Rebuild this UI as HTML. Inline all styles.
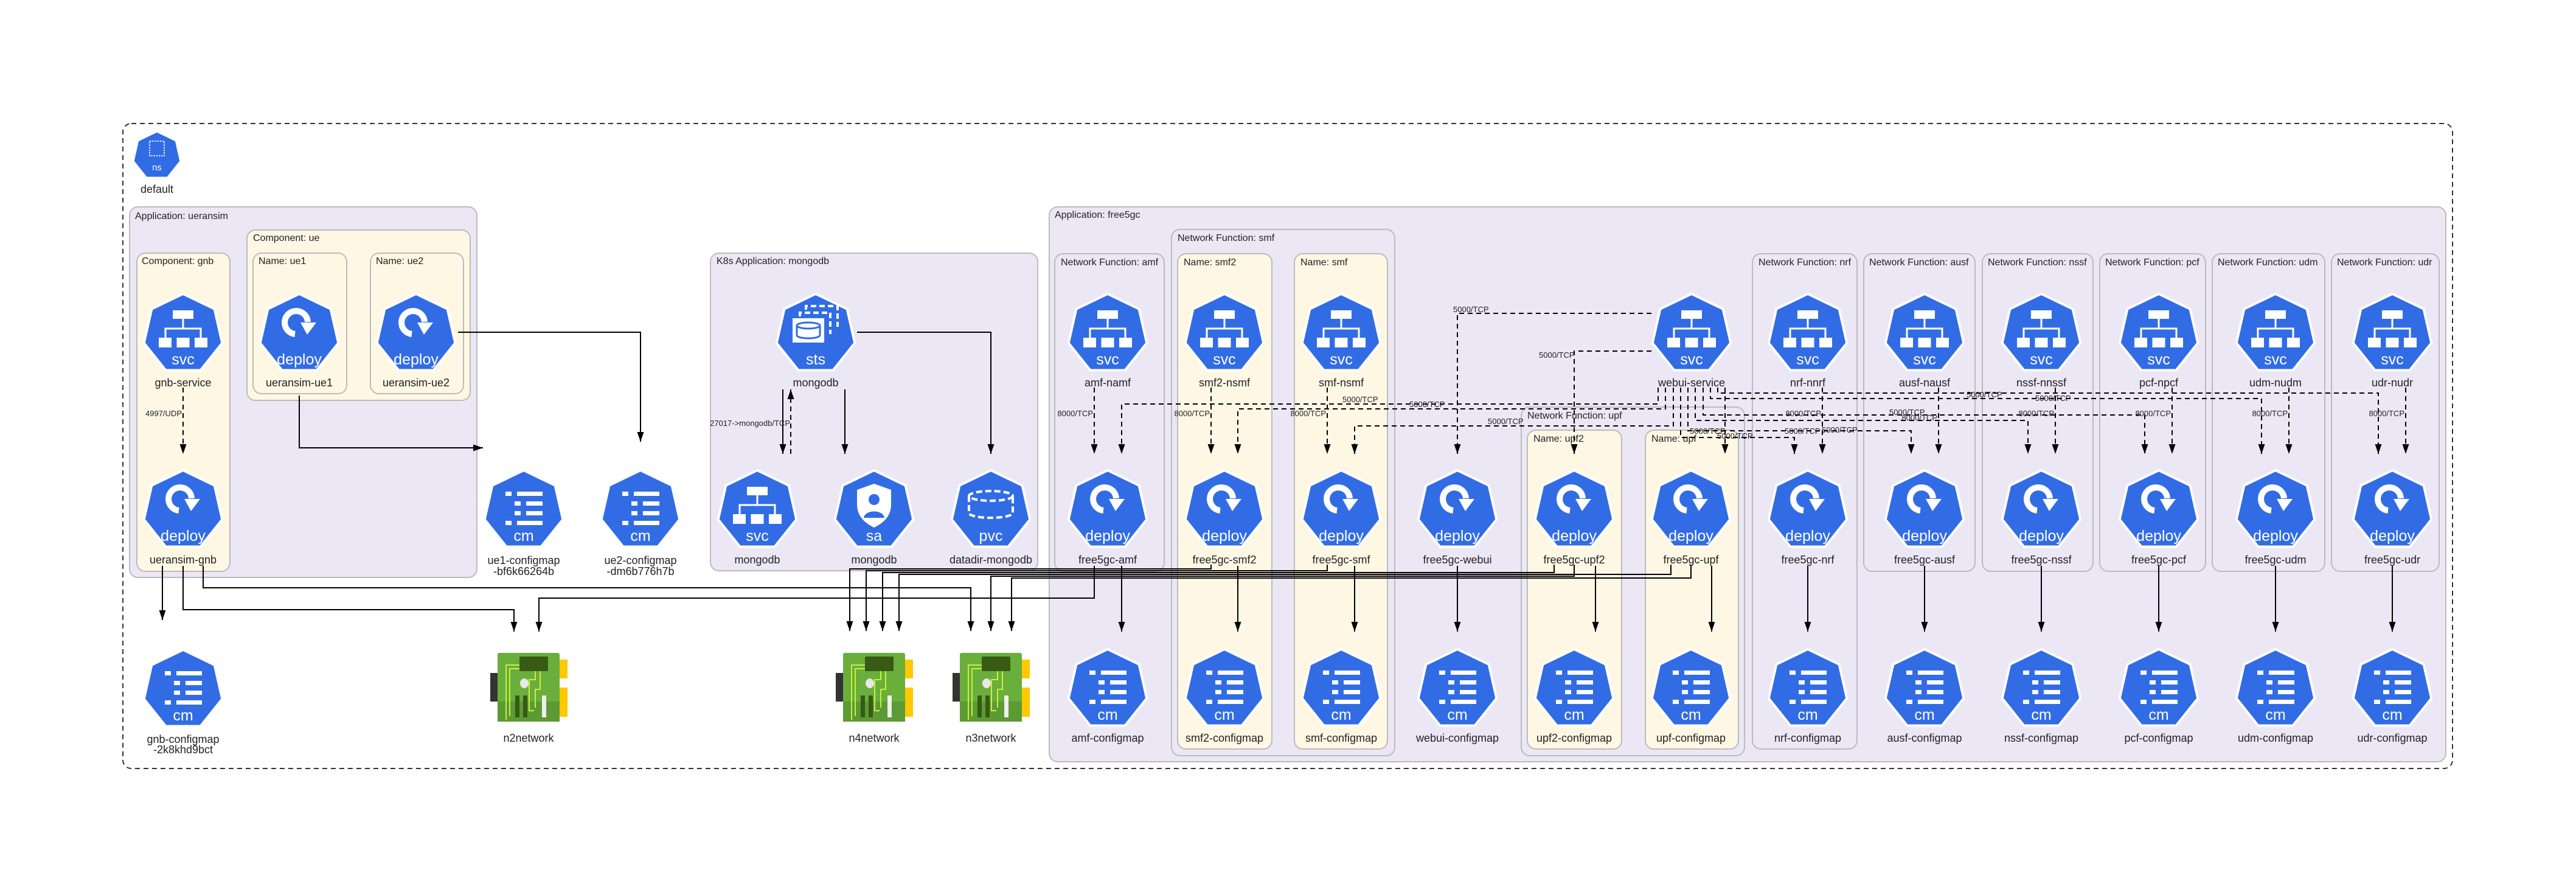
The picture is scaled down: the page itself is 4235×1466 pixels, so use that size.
<!DOCTYPE html>
<html><head><meta charset="utf-8"><style>
html,body{margin:0;padding:0;background:#fff;}
svg{display:block;font-family:"Liberation Sans",Arial,sans-serif;}
.lb{font-size:16px;fill:#222;}
.nl{font-size:18px;fill:#222;text-anchor:middle;}
.it{font-size:25px;fill:#fff;text-anchor:middle;}
.el{font-size:13px;fill:#222;}
.s{fill:none;stroke:#000;stroke-width:2;}
.d{fill:none;stroke:#000;stroke-width:2;stroke-dasharray:8,6;}
</style></head><body>
<svg width="4235" height="1466" viewBox="0 0 4235 1466" xmlns="http://www.w3.org/2000/svg">
<defs>
<marker id="a" viewBox="0 0 10 10" refX="10" refY="5" markerUnits="userSpaceOnUse" markerWidth="16" markerHeight="11" orient="auto" preserveAspectRatio="none"><path d="M0,0L10,5L0,10z" fill="#000"/></marker>
<path id="h" d="M0,-66L51.6,-41.2L64.3,14.7L28.6,59.5L-28.6,59.5L-64.3,14.7L-51.6,-41.2Z" fill="#326ce5" stroke="#fff" stroke-width="4" stroke-linejoin="round"/>
<g id="gs" fill="#fff"><rect x="-17" y="-39" width="34" height="14"/><rect x="-1.5" y="-25" width="3" height="17"/><path d="M-29,8V-9H29V8" fill="none" stroke="#fff" stroke-width="3"/><rect x="-40" y="6" width="21" height="16"/><rect x="-10.5" y="6" width="21" height="16"/><rect x="19" y="6" width="21" height="16"/></g>
<g id="gd"><path d="M-7,0A19,19 0 1 1 14,-20" fill="none" stroke="#fff" stroke-width="10"/><path d="M2,-19L28,-19L13,1Z" fill="#fff"/></g>
<g id="gc" fill="#fff"><rect x="-30" y="-31" width="10" height="7"/><rect x="-11" y="-31" width="42" height="7"/><rect x="-15" y="-15" width="10" height="7"/><rect x="4" y="-15" width="27" height="7"/><rect x="-15" y="1" width="10" height="7"/><rect x="4" y="1" width="27" height="7"/><rect x="-30" y="17" width="10" height="7"/><rect x="-11" y="17" width="42" height="7"/></g>
<g id="net"><rect x="-12" y="33" width="12" height="47" fill="#333"/><rect x="102" y="11" width="13" height="31" fill="#ffc800"/><rect x="102" y="57" width="13" height="48" fill="#ffc800"/><rect x="0" y="0" width="102" height="113" rx="3" fill="#6aae3c"/><rect x="0" y="80" width="102" height="33" fill="#5c9a34"/><rect x="36" y="6" width="47" height="24" rx="2" fill="#375a14"/><path d="M14,110V20H36M20,104V26H36M62,30V44H52V95H60M70,30V60H62V90" fill="none" stroke="#c8f03c" stroke-width="2"/><ellipse cx="44" cy="50" rx="7" ry="8" fill="#e8e8e8"/><rect x="29" y="70" width="7" height="36" fill="#375a14"/><rect x="42" y="70" width="7" height="36" fill="#375a14"/><rect x="73" y="70" width="7" height="36" fill="#eee"/></g>
</defs>

<rect x="202" y="203" width="3830" height="1060" rx="14" fill="none" stroke="#333" stroke-width="2" stroke-dasharray="8,6"/>
<g transform="translate(258,256) scale(0.6)"><use href="#h"/><rect x="-20" y="-40" width="40" height="40" fill="none" stroke="#fff" stroke-width="3" stroke-dasharray="4,3"/><text y="40" class="it" style="font-size:24px">ns</text></g>
<text x="258" y="317" class="nl">default</text>

<rect x="213" y="340" width="571" height="609" rx="14" fill="#ebe7f5" stroke="#bbb" stroke-width="2"/>
<text x="222" y="360" class="lb">Application: ueransim</text>
<rect x="225" y="416" width="153" height="523" rx="14" fill="#fdf7e4" stroke="#bbb" stroke-width="2"/>
<text x="233" y="434" class="lb">Component: gnb</text>
<rect x="406" y="378" width="367" height="280" rx="14" fill="#fdf7e4" stroke="#bbb" stroke-width="2"/>
<text x="416" y="396" class="lb">Component: ue</text>
<rect x="416" y="416" width="154" height="231" rx="14" fill="#fdf7e4" stroke="#bbb" stroke-width="2"/>
<text x="425" y="434" class="lb">Name: ue1</text>
<rect x="609" y="416" width="153" height="231" rx="14" fill="#fdf7e4" stroke="#bbb" stroke-width="2"/>
<text x="618" y="434" class="lb">Name: ue2</text>

<rect x="1168" y="416" width="538" height="522" rx="14" fill="#ebe7f5" stroke="#bbb" stroke-width="2"/>
<text x="1178" y="434" class="lb">K8s Application: mongodb</text>

<rect x="1725" y="340" width="2296" height="912" rx="14" fill="#ebe7f5" stroke="#bbb" stroke-width="2"/>
<text x="1734" y="358" class="lb">Application: free5gc</text>
<rect x="1734" y="417" width="180" height="522" rx="14" fill="#ebe7f5" stroke="#bbb" stroke-width="2"/>
<text x="1744" y="436" class="lb">Network Function: amf</text>
<rect x="1926" y="377" width="367" height="865" rx="14" fill="#ebe7f5" stroke="#bbb" stroke-width="2"/>
<text x="1936" y="396" class="lb">Network Function: smf</text>
<rect x="1936" y="417" width="155" height="814" rx="14" fill="#fdf7e4" stroke="#bbb" stroke-width="2"/>
<text x="1946" y="436" class="lb">Name: smf2</text>
<rect x="2128" y="417" width="153" height="814" rx="14" fill="#fdf7e4" stroke="#bbb" stroke-width="2"/>
<text x="2138" y="436" class="lb">Name: smf</text>
<rect x="2501" y="669" width="367" height="573" rx="14" fill="#ebe7f5" stroke="#bbb" stroke-width="2"/>
<text x="2511" y="688" class="lb">Network Function: upf</text>
<rect x="2511" y="707" width="155" height="524" rx="14" fill="#fdf7e4" stroke="#bbb" stroke-width="2"/>
<text x="2521" y="726" class="lb">Name: upf2</text>
<rect x="2705" y="707" width="153" height="524" rx="14" fill="#fdf7e4" stroke="#bbb" stroke-width="2"/>
<text x="2715" y="726" class="lb">Name: upf</text>
<rect x="2881" y="417" width="172" height="814" rx="14" fill="#ebe7f5" stroke="#bbb" stroke-width="2"/>
<text x="2891" y="436" class="lb">Network Function: nrf</text>
<rect x="3064" y="417" width="183" height="522" rx="14" fill="#ebe7f5" stroke="#bbb" stroke-width="2"/>
<text x="3073" y="436" class="lb">Network Function: ausf</text>
<rect x="3259" y="417" width="182" height="522" rx="14" fill="#ebe7f5" stroke="#bbb" stroke-width="2"/>
<text x="3268" y="436" class="lb">Network Function: nssf</text>
<rect x="3452" y="417" width="174" height="522" rx="14" fill="#ebe7f5" stroke="#bbb" stroke-width="2"/>
<text x="3461" y="436" class="lb">Network Function: pcf</text>
<rect x="3637" y="417" width="185" height="522" rx="14" fill="#ebe7f5" stroke="#bbb" stroke-width="2"/>
<text x="3646" y="436" class="lb">Network Function: udm</text>
<rect x="3833" y="417" width="177" height="522" rx="14" fill="#ebe7f5" stroke="#bbb" stroke-width="2"/>
<text x="3842" y="436" class="lb">Network Function: udr</text>

<g class="s" marker-end="url(#a)">
<path d="M492,650V736H794"/>
<path d="M753,546H1053V726"/>
<path d="M267,930V1019"/>
<path d="M301,930V1002H845V1038"/>
<path d="M334,930V966H1596V1037"/>
<path d="M1799,930V983H886V1038"/>
<path d="M1287,640V746"/>
<path d="M1389,640V746"/>
<path d="M1409,546H1629V746"/>
<path d="M1991,928V935H1397V1037"/>
<path d="M2182,928V938H1424V1037"/>
<path d="M2555,928V941H1451V1037"/>
<path d="M2747,928V944H1478V1037"/>
<path d="M2588,928V947H1629V1037"/>
<path d="M2780,928V950H1663V1037"/>
<path d="M1844,930V1038"/><path d="M2035,930V1038"/><path d="M2227,930V1038"/><path d="M2396,930V1038"/><path d="M2623,930V1038"/><path d="M2814,930V1038"/>
<path d="M2972,930V1038"/><path d="M3164,930V1038"/><path d="M3356,930V1038"/><path d="M3549,930V1038"/><path d="M3741,930V1038"/><path d="M3933,930V1038"/>
</g>
<g class="d" marker-end="url(#a)">
<path d="M301,637V746"/>
<path d="M1300,746V640"/>
<path d="M1799,637V746"/><path d="M1991,637V746"/><path d="M2182,637V746"/>
<path d="M2996,637V746"/><path d="M3187,637V746"/><path d="M3379,637V746"/><path d="M3571,637V746"/><path d="M3763,637V746"/><path d="M3955,637V746"/>
<path d="M2715,515H2396V746"/>
<path d="M2715,577H2588V746"/>
<path d="M2726,637V664H1844V746"/>
<path d="M2738,637V672H2035V746"/>
<path d="M2751,637V700H2227V746"/>
<path d="M2763,637V719H2950V746"/>
<path d="M2775,637V708H3142V746"/>
<path d="M2787,637V691H3334V746"/>
<path d="M2800,637V682H3526V746"/>
<path d="M2812,637V655H3718V746"/>
<path d="M2824,637V646H3910V746"/>
<path d="M2836,637V746"/>
</g>
<g class="el">
<text x="299" y="684" text-anchor="end">4997/UDP</text>
<text x="1299" y="700" text-anchor="end">27017-&gt;mongodb/TCP</text>
<text x="1797" y="684" text-anchor="end">8000/TCP</text>
<text x="1989" y="684" text-anchor="end">8000/TCP</text>
<text x="2180" y="684" text-anchor="end">8000/TCP</text>
<text x="2994" y="684" text-anchor="end">8000/TCP</text>
<text x="3185" y="691" text-anchor="end">8000/TCP</text>
<text x="3377" y="684" text-anchor="end">8000/TCP</text>
<text x="3569" y="684" text-anchor="end">8000/TCP</text>
<text x="3761" y="684" text-anchor="end">8000/TCP</text>
<text x="3953" y="684" text-anchor="end">8000/TCP</text>
<text x="2389" y="513">5000/TCP</text>
<text x="2530" y="588">5000/TCP</text>
<text x="2317" y="669">5000/TCP</text>
<text x="2207" y="661">5000/TCP</text>
<text x="2446" y="697">5000/TCP</text>
<text x="2778" y="713">5000/TCP</text>
<text x="2934" y="713">5000/TCP</text>
<text x="2995" y="711">5000/TCP</text>
<text x="3106" y="682">5000/TCP</text>
<text x="3233" y="653">5000/TCP</text>
<text x="3346" y="659">5000/TCP</text>
<text x="2823" y="721">5000/TCP</text>
</g>

<g transform="translate(301,549)"><use href="#h"/><use href="#gs"/><text y="50" class="it">svc</text></g>
<g transform="translate(1821,549)"><use href="#h"/><use href="#gs"/><text y="50" class="it">svc</text></g>
<g transform="translate(2013,549)"><use href="#h"/><use href="#gs"/><text y="50" class="it">svc</text></g>
<g transform="translate(2205,549)"><use href="#h"/><use href="#gs"/><text y="50" class="it">svc</text></g>
<g transform="translate(2781,549)"><use href="#h"/><use href="#gs"/><text y="50" class="it">svc</text></g>
<g transform="translate(2972,549)"><use href="#h"/><use href="#gs"/><text y="50" class="it">svc</text></g>
<g transform="translate(3164,549)"><use href="#h"/><use href="#gs"/><text y="50" class="it">svc</text></g>
<g transform="translate(3356,549)"><use href="#h"/><use href="#gs"/><text y="50" class="it">svc</text></g>
<g transform="translate(3549,549)"><use href="#h"/><use href="#gs"/><text y="50" class="it">svc</text></g>
<g transform="translate(3741,549)"><use href="#h"/><use href="#gs"/><text y="50" class="it">svc</text></g>
<g transform="translate(3933,549)"><use href="#h"/><use href="#gs"/><text y="50" class="it">svc</text></g>
<g transform="translate(492,549)"><use href="#h"/><use href="#gd"/><text y="50" class="it">deploy</text></g>
<g transform="translate(684,549)"><use href="#h"/><use href="#gd"/><text y="50" class="it">deploy</text></g>
<g transform="translate(1341,549)"><use href="#h"/>
<g fill="none" stroke="#fff" stroke-width="4" stroke-dasharray="9,5"><path d="M-16,-40V-46H36V-12"/><path d="M-26,-29V-35H24V0"/></g>
<rect x="-38" y="-26" width="52" height="40" fill="#fff"/><ellipse cx="-12" cy="-14" rx="19" ry="5" fill="none" stroke="#326ce5" stroke-width="3"/><path d="M-31,-14V2A19,5 0 0 0 7,2V-14" fill="none" stroke="#326ce5" stroke-width="3"/>
<text y="50" class="it">sts</text></g>
<g class="nl">
<text x="301" y="635">gnb-service</text><text x="492" y="635">ueransim-ue1</text><text x="684" y="635">ueransim-ue2</text><text x="1341" y="635">mongodb</text>
<text x="1821" y="635">amf-namf</text><text x="2013" y="635">smf2-nsmf</text><text x="2205" y="635">smf-nsmf</text><text x="2781" y="635">webui-service</text>
<text x="2972" y="635">nrf-nnrf</text><text x="3164" y="635">ausf-nausf</text><text x="3356" y="635">nssf-nnssf</text><text x="3549" y="635">pcf-npcf</text><text x="3741" y="635">udm-nudm</text><text x="3933" y="635">udr-nudr</text>
</g>

<g transform="translate(301,839)"><use href="#h"/><use href="#gd"/><text y="50" class="it">deploy</text></g>
<g transform="translate(861,839)"><use href="#h"/><use href="#gc"/><text y="50" class="it">cm</text></g>
<g transform="translate(1053,839)"><use href="#h"/><use href="#gc"/><text y="50" class="it">cm</text></g>
<g transform="translate(1245,839)"><use href="#h"/><use href="#gs"/><text y="50" class="it">svc</text></g>
<g transform="translate(1437,839)"><use href="#h"/><path d="M0,-44L28,-34V-10C28,12 12,22 0,28C-12,22 -28,12 -28,-10V-34Z" fill="#fff"/><circle cx="0" cy="-18" r="9" fill="#326ce5"/><path d="M-17,12C-15,-2 15,-2 17,12Z" fill="#326ce5"/><text y="50" class="it">sa</text></g>
<g transform="translate(1629,839)"><use href="#h"/><g fill="none" stroke="#fff" stroke-width="4" stroke-dasharray="10,5"><ellipse cx="0" cy="-24" rx="36" ry="8"/><path d="M-36,-24V4A36,8 0 0 0 36,4V-24"/></g><text y="50" class="it">pvc</text></g>
<g transform="translate(1821,839)"><use href="#h"/><use href="#gd"/><text y="50" class="it">deploy</text></g>
<g transform="translate(2013,839)"><use href="#h"/><use href="#gd"/><text y="50" class="it">deploy</text></g>
<g transform="translate(2205,839)"><use href="#h"/><use href="#gd"/><text y="50" class="it">deploy</text></g>
<g transform="translate(2396,839)"><use href="#h"/><use href="#gd"/><text y="50" class="it">deploy</text></g>
<g transform="translate(2588,839)"><use href="#h"/><use href="#gd"/><text y="50" class="it">deploy</text></g>
<g transform="translate(2780,839)"><use href="#h"/><use href="#gd"/><text y="50" class="it">deploy</text></g>
<g transform="translate(2972,839)"><use href="#h"/><use href="#gd"/><text y="50" class="it">deploy</text></g>
<g transform="translate(3164,839)"><use href="#h"/><use href="#gd"/><text y="50" class="it">deploy</text></g>
<g transform="translate(3356,839)"><use href="#h"/><use href="#gd"/><text y="50" class="it">deploy</text></g>
<g transform="translate(3549,839)"><use href="#h"/><use href="#gd"/><text y="50" class="it">deploy</text></g>
<g transform="translate(3741,839)"><use href="#h"/><use href="#gd"/><text y="50" class="it">deploy</text></g>
<g transform="translate(3933,839)"><use href="#h"/><use href="#gd"/><text y="50" class="it">deploy</text></g>
<g class="nl">
<text x="301" y="926">ueransim-gnb</text>
<text x="861" y="927">ue1-configmap</text><text x="861" y="945">-bf6k66264b</text>
<text x="1053" y="927">ue2-configmap</text><text x="1053" y="945">-dm6b776h7b</text>
<text x="1245" y="926">mongodb</text><text x="1437" y="926">mongodb</text><text x="1629" y="926">datadir-mongodb</text>
<text x="1821" y="926">free5gc-amf</text><text x="2013" y="926">free5gc-smf2</text><text x="2205" y="926">free5gc-smf</text><text x="2396" y="926">free5gc-webui</text>
<text x="2588" y="926">free5gc-upf2</text><text x="2780" y="926">free5gc-upf</text><text x="2972" y="926">free5gc-nrf</text><text x="3164" y="926">free5gc-ausf</text>
<text x="3356" y="926">free5gc-nssf</text><text x="3549" y="926">free5gc-pcf</text><text x="3741" y="926">free5gc-udm</text><text x="3933" y="926">free5gc-udr</text>
</g>

<g transform="translate(301,1134)"><use href="#h"/><use href="#gc"/><text y="50" class="it">cm</text></g>
<g transform="translate(1821,1133)"><use href="#h"/><use href="#gc"/><text y="50" class="it">cm</text></g>
<g transform="translate(2013,1133)"><use href="#h"/><use href="#gc"/><text y="50" class="it">cm</text></g>
<g transform="translate(2205,1133)"><use href="#h"/><use href="#gc"/><text y="50" class="it">cm</text></g>
<g transform="translate(2396,1133)"><use href="#h"/><use href="#gc"/><text y="50" class="it">cm</text></g>
<g transform="translate(2588,1133)"><use href="#h"/><use href="#gc"/><text y="50" class="it">cm</text></g>
<g transform="translate(2780,1133)"><use href="#h"/><use href="#gc"/><text y="50" class="it">cm</text></g>
<g transform="translate(2972,1133)"><use href="#h"/><use href="#gc"/><text y="50" class="it">cm</text></g>
<g transform="translate(3164,1133)"><use href="#h"/><use href="#gc"/><text y="50" class="it">cm</text></g>
<g transform="translate(3356,1133)"><use href="#h"/><use href="#gc"/><text y="50" class="it">cm</text></g>
<g transform="translate(3549,1133)"><use href="#h"/><use href="#gc"/><text y="50" class="it">cm</text></g>
<g transform="translate(3741,1133)"><use href="#h"/><use href="#gc"/><text y="50" class="it">cm</text></g>
<g transform="translate(3933,1133)"><use href="#h"/><use href="#gc"/><text y="50" class="it">cm</text></g>
<use href="#net" x="818" y="1073"/>
<use href="#net" x="1386" y="1073"/>
<use href="#net" x="1578" y="1073"/>
<g class="nl">
<text x="301" y="1221">gnb-configmap</text><text x="301" y="1238">-2k8khd9bct</text>
<text x="869" y="1219">n2network</text><text x="1437" y="1219">n4network</text><text x="1629" y="1219">n3network</text>
<text x="1821" y="1219">amf-configmap</text><text x="2013" y="1219">smf2-configmap</text><text x="2205" y="1219">smf-configmap</text><text x="2396" y="1219">webui-configmap</text>
<text x="2588" y="1219">upf2-configmap</text><text x="2780" y="1219">upf-configmap</text><text x="2972" y="1219">nrf-configmap</text><text x="3164" y="1219">ausf-configmap</text>
<text x="3356" y="1219">nssf-configmap</text><text x="3549" y="1219">pcf-configmap</text><text x="3741" y="1219">udm-configmap</text><text x="3933" y="1219">udr-configmap</text>
</g>
</svg>
</body></html>
